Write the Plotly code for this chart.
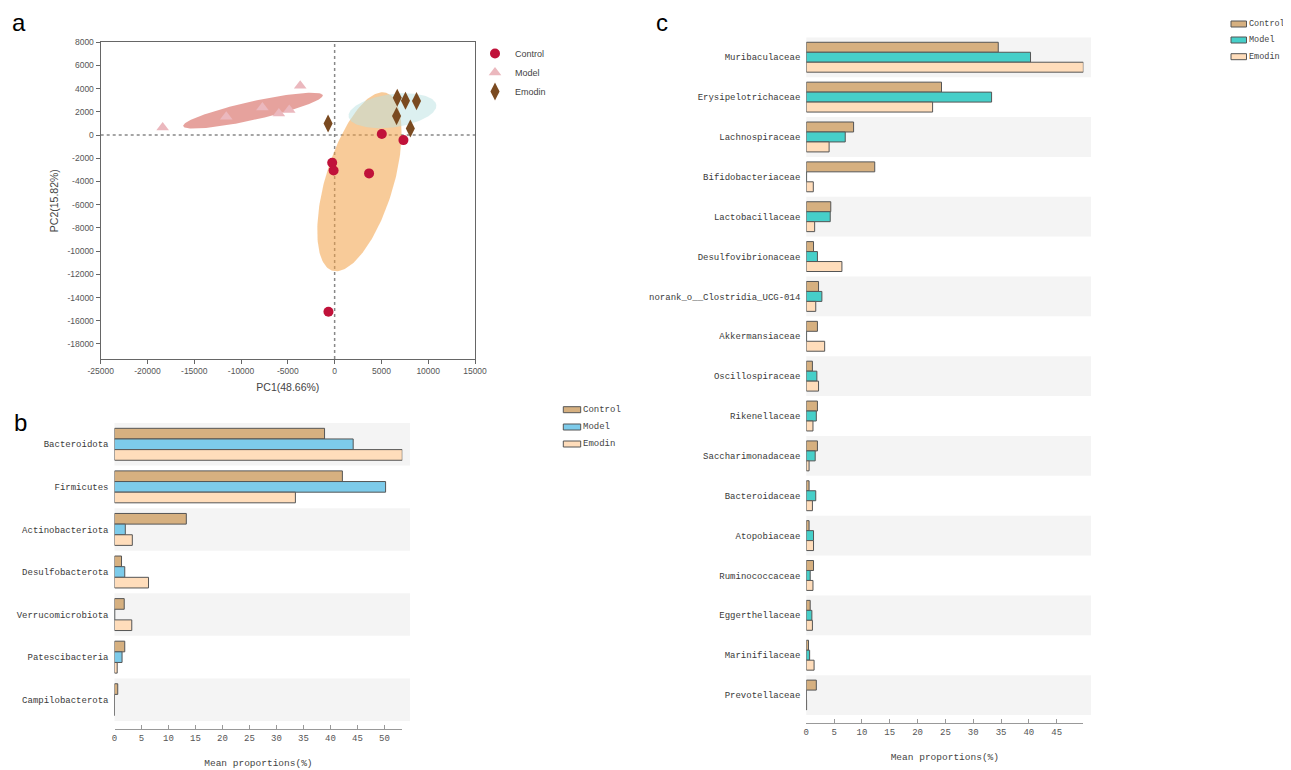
import numpy as np
import plotly.graph_objects as go

# the page body has an 8px default margin, so the figure is offset by it
OFF = 8
W, H = 1291 - OFF, 770 - OFF

groups = ["Control", "Model", "Emodin"]

# ---------------- Panel a : PCA scores ----------------
pc1_control = [5040, 7350, -260, -110, 3680, -660]
pc2_control = [90, -430, -2390, -3050, -3300, -15230]
pc1_model = [-18380, -11580, -7720, -5960, -4850, -3680]
pc2_model = [660, 1580, 2390, 1870, 2160, 4250]
pc1_emodin = [-700, 6690, 7570, 8750, 6620, 8090]
pc2_emodin = [1000, 3220, 2960, 2930, 1640, 570]

# confidence ellipses (center + two conjugate semi-axis vectors), order: Control, Model, Emodin
ellipse_cx = [2650, -8730, 6180]
ellipse_cy = [-4025, 2110, 2100]
ellipse_ux = [2850, 7455, 4686]
ellipse_uy = [7675, 1336, 504]
ellipse_vx = [3490, 214, 233]
ellipse_vy = [-793, -783, -1418]

a_xticks = [-25000, -20000, -15000, -10000, -5000, 0, 5000, 10000, 15000]
a_yticks = [8000, 6000, 4000, 2000, 0, -2000, -4000, -6000, -8000, -10000,
            -12000, -14000, -16000, -18000]

# ---------------- Panel b : phylum level ----------------
phyla = ["Bacteroidota", "Firmicutes", "Actinobacteriota", "Desulfobacterota",
         "Verrucomicrobiota", "Patescibacteria", "Campilobacterota"]
phyla_control = [38.9, 42.2, 13.3, 1.3, 1.8, 1.9, 0.6]
phyla_model = [44.2, 50.2, 2.0, 1.9, 0.05, 1.4, 0]
phyla_emodin = [53.3, 33.5, 3.3, 6.3, 3.2, 0.5, 0]
b_xticks = [0, 5, 10, 15, 20, 25, 30, 35, 40, 45, 50]

# ---------------- Panel c : family level ----------------
families = ["Muribaculaceae", "Erysipelotrichaceae", "Lachnospiraceae",
            "Bifidobacteriaceae", "Lactobacillaceae", "Desulfovibrionaceae",
            "norank_o__Clostridia_UCG-014", "Akkermansiaceae", "Oscillospiraceae",
            "Rikenellaceae", "Saccharimonadaceae", "Bacteroidaceae", "Atopobiaceae",
            "Ruminococcaceae", "Eggerthellaceae", "Marinifilaceae", "Prevotellaceae"]
fam_control = [34.5, 24.3, 8.5, 12.3, 4.4, 1.3, 2.2, 2.0, 1.1, 2.0, 2.0, 0.5, 0.5, 1.3, 0.7, 0.4, 1.8]
fam_model = [40.3, 33.3, 7.0, 0.05, 4.3, 2.0, 2.8, 0.05, 1.9, 1.8, 1.6, 1.7, 1.3, 0.7, 1.0, 0.6, 0]
fam_emodin = [49.8, 22.7, 4.1, 1.26, 1.5, 6.4, 1.7, 3.3, 2.2, 1.2, 0.5, 1.1, 1.3, 1.2, 1.1, 1.4, 0.05]
c_xticks = [0, 5, 10, 15, 20, 25, 30, 35, 40, 45]

# ---------------- styles ----------------
def px(x):
    return (x - OFF) / W

def py(y):
    return 1 - (y - OFF) / H

ell_fill = ["rgba(242,160,70,0.55)", "rgba(214,100,92,0.6)", "rgba(185,225,225,0.5)"]
pt_color = {"Control": "#C0123A", "Model": "#EBB8BE", "Emodin": "#7A4A20"}
pt_symbol = {"Control": "circle", "Model": "triangle-up", "Emodin": "diamond-tall"}
pt_size = {"Control": 10, "Model": 11, "Emodin": 13}
bar_b = {"Control": "#D6B080", "Model": "#7DCBEA", "Emodin": "#FFDDBB"}
bar_c = {"Control": "#D6B080", "Model": "#46CFC9", "Emodin": "#FFDDBB"}
MONO = "Liberation Mono, Courier New, monospace"
SANS = "Arial, Liberation Sans, sans-serif"

fig = go.Figure()

# ellipses
t = np.linspace(0, 2 * np.pi, 181)
for i in range(3):
    ex = ellipse_cx[i] + ellipse_ux[i] * np.cos(t) + ellipse_vx[i] * np.sin(t)
    ey = ellipse_cy[i] + ellipse_uy[i] * np.cos(t) + ellipse_vy[i] * np.sin(t)
    fig.add_trace(go.Scatter(x=ex, y=ey, mode="lines", fill="toself",
                             fillcolor=ell_fill[i], line=dict(width=0),
                             hoverinfo="skip", showlegend=False,
                             xaxis="x", yaxis="y"))

pts = {"Control": (pc1_control, pc2_control),
       "Model": (pc1_model, pc2_model),
       "Emodin": (pc1_emodin, pc2_emodin)}
for g in groups:
    xs, ys = pts[g]
    fig.add_trace(go.Scatter(x=xs, y=ys, mode="markers", name=g,
                             marker=dict(color=pt_color[g], symbol=pt_symbol[g],
                                         size=pt_size[g], line=dict(width=0)),
                             xaxis="x", yaxis="y", legend="legend"))

# bars panel b
vals_b = {"Control": phyla_control, "Model": phyla_model, "Emodin": phyla_emodin}
for g in groups:
    fig.add_trace(go.Bar(x=vals_b[g], y=phyla, orientation="h", name=g,
                         marker=dict(color=bar_b[g], line=dict(color="#555555", width=1)),
                         xaxis="x2", yaxis="y2", showlegend=False))

vals_c = {"Control": fam_control, "Model": fam_model, "Emodin": fam_emodin}
for g in groups:
    fig.add_trace(go.Bar(x=vals_c[g], y=families, orientation="h", name=g,
                         marker=dict(color=bar_c[g], line=dict(color="#555555", width=1)),
                         xaxis="x3", yaxis="y3", showlegend=False))

shapes = []
annotations = []

# dotted zero lines (panel a)
shapes.append(dict(type="line", xref="x", yref="y", x0=0, x1=0, y0=-19300, y1=8000,
                   line=dict(color="#888888", width=1.5, dash="dot"), layer="below"))
shapes.append(dict(type="line", xref="x", yref="y", x0=-25000, x1=15000, y0=0, y1=0,
                   line=dict(color="#888888", width=1.5, dash="dot"), layer="below"))

# alternating bands
for i in range(0, len(phyla), 2):
    shapes.append(dict(type="rect", xref="paper", yref="y2", x0=px(114.5), x1=px(410),
                       y0=i - 0.5, y1=i + 0.5, fillcolor="#F4F4F4",
                       line=dict(width=0), layer="below"))
for i in range(0, len(families), 2):
    shapes.append(dict(type="rect", xref="paper", yref="y3", x0=px(806.3), x1=px(1091),
                       y0=i - 0.5, y1=i + 0.5, fillcolor="#F4F4F4",
                       line=dict(width=0), layer="below"))

# manual legends for bar panels
def bar_legend(x0, x1, rows, colors, size):
    for g, yy in zip(groups, rows):
        shapes.append(dict(type="rect", xref="paper", yref="paper",
                           x0=px(x0), x1=px(x1), y0=py(yy + 3), y1=py(yy - 3),
                           fillcolor=colors[g], line=dict(color="#555555", width=1)))
        annotations.append(dict(text=g, xref="paper", yref="paper", x=px(x1 + 0.5), y=py(yy),
                                xanchor="left", yanchor="middle", showarrow=False,
                                font=dict(family=MONO, size=size, color="#444444")))

bar_legend(563.3, 580.7, [409.7, 427, 444], bar_b, 9)
bar_legend(1231.0, 1246.5, [24, 40, 56.7], bar_c, 8.5)

# panel letters
for letter, xx, yy in [("a", 19, 23), ("b", 20, 422), ("c", 662, 22)]:
    annotations.append(dict(text=letter, xref="paper", yref="paper", x=px(xx), y=py(yy),
                            xanchor="center", yanchor="middle", showarrow=False,
                            font=dict(family=SANS, size=24, color="#000000")))

max_b = max(phyla_control + phyla_model + phyla_emodin)
max_c = max(fam_control + fam_model + fam_emodin)
scale_b = 5.4     # px per percent
scale_c = 5.564

tickfont_a = dict(family=SANS, size=8.5, color="#555555")
tickfont_bar = dict(family=MONO, size=9, color="#555555")
catfont = dict(family=MONO, size=9, color="#3a3a3a")

fig.update_layout(
    template="none",
    width=W, height=H,
    margin=dict(l=0, r=0, t=0, b=0, autoexpand=False),
    paper_bgcolor="white", plot_bgcolor="rgba(0,0,0,0)",
    barmode="group", bargap=0.25, bargroupgap=0,
    shapes=shapes, annotations=annotations,
    xaxis=dict(domain=[px(100.7), px(475)], range=[-25000, 15000], anchor="y",
               automargin=False,
               tickvals=a_xticks, ticktext=[str(v) for v in a_xticks],
               ticks="outside", ticklen=4, tickcolor="#666666", tickfont=tickfont_a,
               showline=True, linecolor="#666666", linewidth=1.3, mirror=True,
               showgrid=False, zeroline=False,
               title=dict(text="PC1(48.66%)", font=dict(family=SANS, size=10.5, color="#444444"),
                          standoff=8)),
    yaxis=dict(domain=[py(359), py(42.3)], range=[-19300, 8000], anchor="x",
               automargin=False,
               tickvals=a_yticks, ticktext=[str(v) for v in a_yticks],
               ticks="outside", ticklen=4, tickcolor="#666666", tickfont=tickfont_a,
               showline=True, linecolor="#666666", linewidth=1.3, mirror=True,
               showgrid=False, zeroline=False,
               title=dict(text="PC2(15.82%)", font=dict(family=SANS, size=10.5, color="#444444"),
                          standoff=6)),
    xaxis2=dict(domain=[px(114.5), px(114.5 + max_b * scale_b)], range=[0, max_b],
                anchor="free", position=py(729), side="bottom", automargin=False,
                tickvals=b_xticks + [max_b], ticktext=[str(v) for v in b_xticks] + [""],
                ticks="inside", ticklen=4, tickcolor="#999999", tickfont=tickfont_bar,
                showline=True, linecolor="#999999", linewidth=1,
                showgrid=False, zeroline=False,
                title=dict(text="Mean proportions(%)",
                           font=dict(family=MONO, size=9.5, color="#444444"), standoff=16)),
    yaxis2=dict(domain=[py(721), py(423)], anchor="x2", type="category",
                automargin=False,
                categoryorder="array", categoryarray=phyla, autorange="reversed",
                showline=False, ticks="", ticklabelstandoff=5, tickfont=catfont,
                showgrid=False, zeroline=False),
    xaxis3=dict(domain=[px(806.3), px(806.3 + max_c * scale_c)], range=[0, max_c],
                anchor="free", position=py(723.3), side="bottom", automargin=False,
                tickvals=c_xticks + [max_c], ticktext=[str(v) for v in c_xticks] + [""],
                ticks="inside", ticklen=4, tickcolor="#999999", tickfont=tickfont_bar,
                showline=True, linecolor="#999999", linewidth=1,
                showgrid=False, zeroline=False,
                title=dict(text="Mean proportions(%)",
                           font=dict(family=MONO, size=9.5, color="#444444"), standoff=16)),
    yaxis3=dict(domain=[py(715), py(37.3)], anchor="x3", type="category",
                automargin=False,
                categoryorder="array", categoryarray=families, autorange="reversed",
                showline=False, ticks="", ticklabelstandoff=5, tickfont=catfont,
                showgrid=False, zeroline=False),
    legend=dict(x=px(475), y=py(39), xanchor="left", yanchor="top",
                bgcolor="rgba(0,0,0,0)", borderwidth=0, tracegroupgap=0,
                font=dict(family=SANS, size=9, color="#444444")),
)

fig.write_html("out.html")
